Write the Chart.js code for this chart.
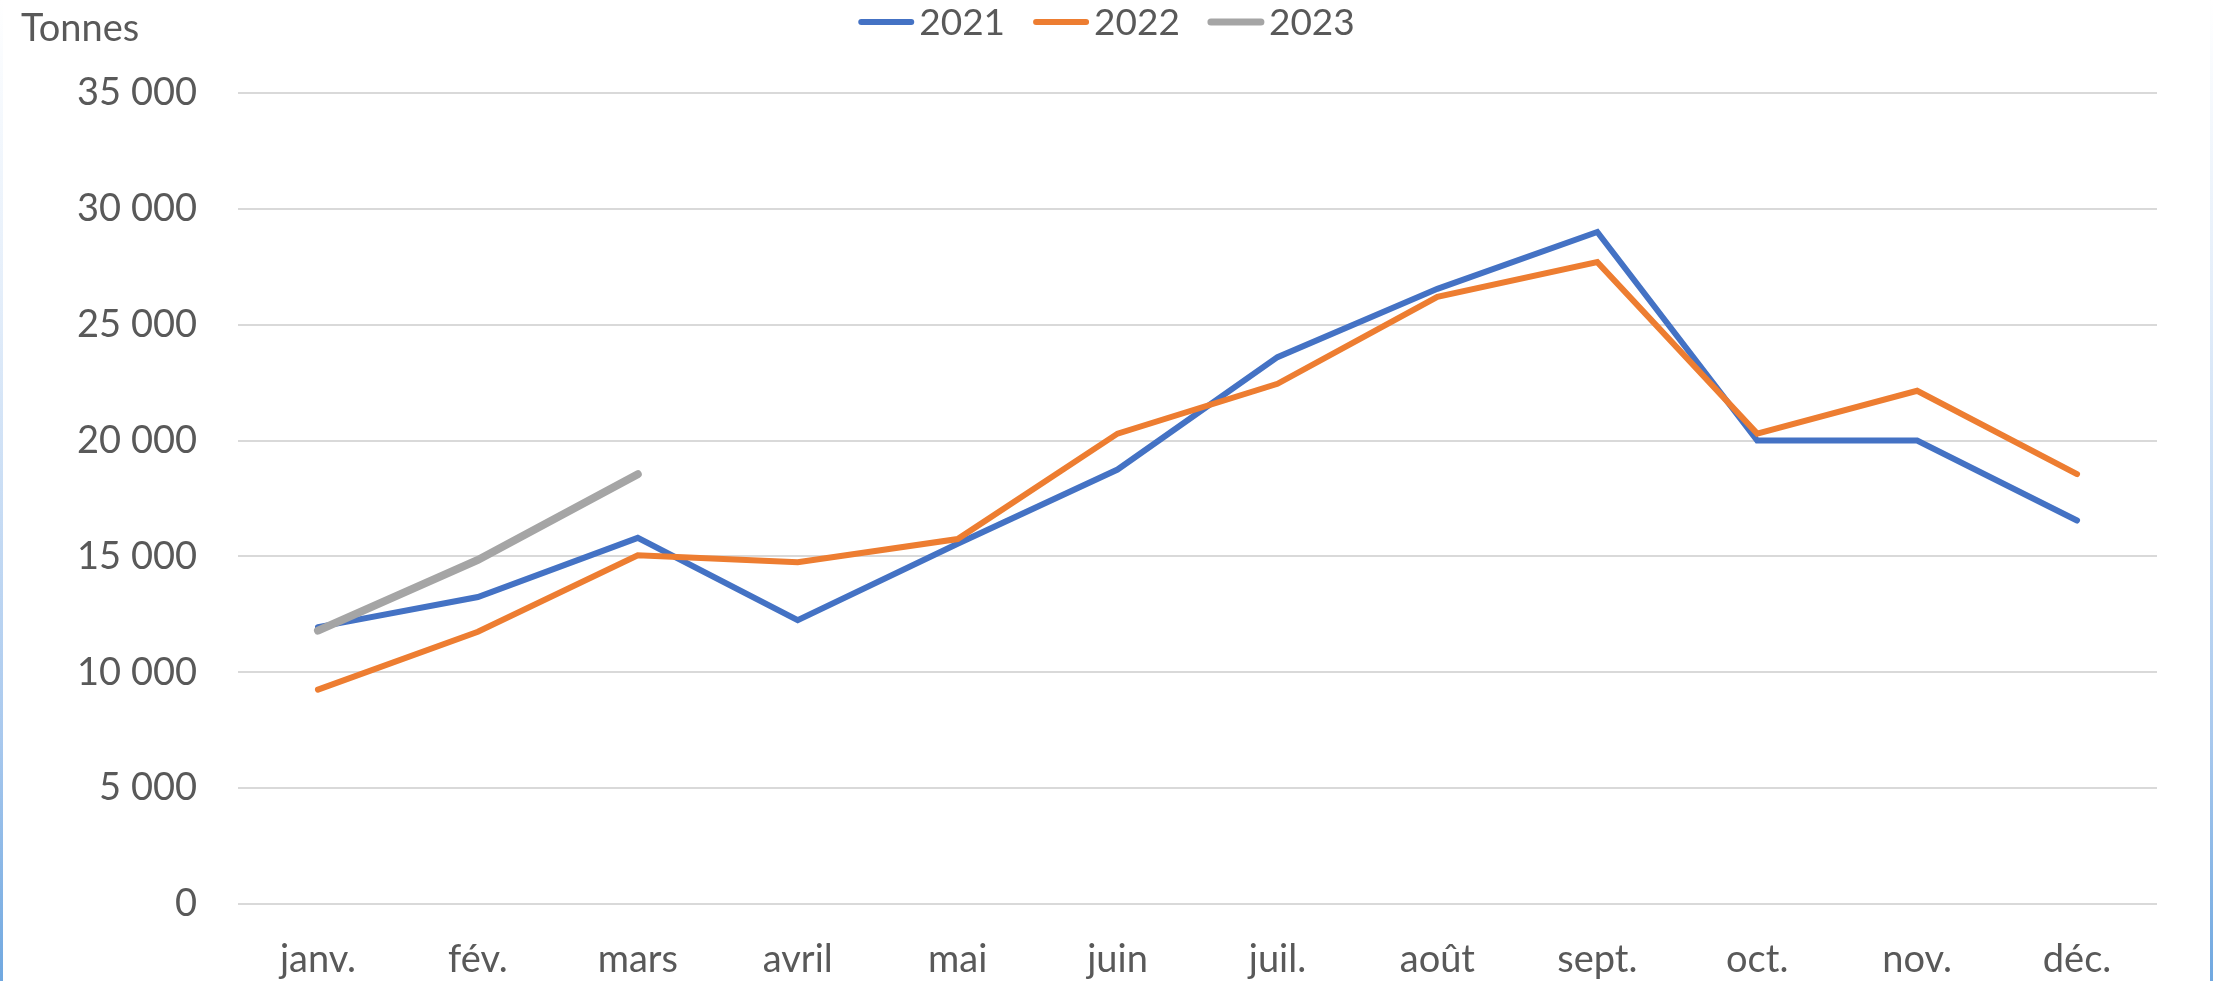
<!DOCTYPE html>
<html>
<head>
<meta charset="utf-8">
<script src="https://cdn.jsdelivr.net/npm/chart.js@4.4.0/dist/chart.umd.min.js"></script>
<style>
  html, body { margin: 0; padding: 0; background: #ffffff; overflow: hidden; }
  #wrap { position: relative; width: 2213px; height: 981px; }
  #edgeL, #edgeR { position: absolute; top: 0; width: 3px; height: 981px;
    background: linear-gradient(to bottom, #ffffff 0%, #e4eefa 30%, #a9c9ee 75%, #70a8e0 100%); }
  #edgeL { left: 0; }
  #edgeR { right: 0; }
</style>
</head>
<body>
<div id="wrap">
  <canvas id="c" width="2213" height="981"></canvas>
  <div id="edgeL"></div>
  <div id="edgeR"></div>
</div>
<script>
const months = ['janv.', 'fév.', 'mars', 'avril', 'mai', 'juin', 'juil.', 'août', 'sept.', 'oct.', 'nov.', 'déc.'];
const seriesNames = ['2021', '2022', '2023'];
const values2021 = [11950, 13250, 15800, 12250, 15550, 18750, 23600, 26550, 29000, 20000, 20000, 16550];
const values2022 = [9250, 11750, 15050, 14750, 15750, 20300, 22450, 26200, 27700, 20300, 22150, 18550];
const values2023 = [11800, 14850, 18550];
const yTicks = [0, 5000, 10000, 15000, 20000, 25000, 30000, 35000];
const unitLabel = 'Tonnes';

const FONT = 'Lato, "Open Sans", sans-serif';
const TEXT = '#595959';

const customLegend = {
  id: 'customLegend',
  afterDraw(chart) {
    const ctx = chart.ctx;
    ctx.save();
    ctx.font = '37px ' + FONT;
    const lineLen = 56, gapText = 5, gapItem = 28;
    const items = chart.data.datasets.map(ds => ({ label: ds.label, color: ds.borderColor, w: ds.borderWidth }));
    let total = 0;
    items.forEach((it, i) => {
      it.tw = ctx.measureText(it.label).width;
      total += lineLen + gapText + it.tw + (i < items.length - 1 ? gapItem : 0);
    });
    let x = chart.width / 2 - total / 2;
    const ly = 22;
    items.forEach(it => {
      ctx.strokeStyle = it.color;
      ctx.lineWidth = Math.min(it.w, 7);
      ctx.lineCap = 'round';
      ctx.beginPath();
      ctx.moveTo(x + 3, ly);
      ctx.lineTo(x + lineLen - 3, ly);
      ctx.stroke();
      x += lineLen + gapText;
      ctx.fillStyle = TEXT;
      ctx.textBaseline = 'alphabetic';
      ctx.textAlign = 'left';
      ctx.fillText(it.label, x, 35);
      x += it.tw + gapItem;
    });
    // unit label
    ctx.font = '38px ' + FONT;
    ctx.fillText(unitLabel, 21, 41);
    ctx.restore();
  }
};

new Chart(document.getElementById('c'), {
  type: 'line',
  data: {
    labels: months,
    datasets: [
      { label: seriesNames[0], data: values2021, borderColor: '#4472C4', backgroundColor: '#4472C4', borderWidth: 6, order: 3 },
      { label: seriesNames[1], data: values2022, borderColor: '#ED7D31', backgroundColor: '#ED7D31', borderWidth: 6, order: 2 },
      { label: seriesNames[2], data: values2023, borderColor: '#A5A5A5', backgroundColor: '#A5A5A5', borderWidth: 8, order: 1 }
    ]
  },
  options: {
    responsive: false,
    animation: false,
    devicePixelRatio: 1,
    layout: { padding: { top: 93, right: 56, bottom: 0, left: 0 } },
    elements: {
      point: { radius: 0, hoverRadius: 0 },
      line: { tension: 0, borderCapStyle: 'round', borderJoinStyle: 'miter', fill: false }
    },
    plugins: {
      legend: { display: false },
      tooltip: { enabled: false },
      title: { display: false }
    },
    scales: {
      x: {
        type: 'category',
        offset: true,
        grid: { display: false, drawTicks: false },
        border: { display: false },
        ticks: { color: TEXT, font: { family: FONT, size: 38 }, padding: 33, maxRotation: 0, autoSkip: false },
        afterFit(scale) { scale.height = 77; }
      },
      y: {
        min: 0,
        max: 35000,
        afterBuildTicks(scale) { scale.ticks = yTicks.map(v => ({ value: v })); },
        grid: { color: '#d9d9d9', lineWidth: 2, drawTicks: false },
        border: { display: false },
        ticks: {
          color: TEXT,
          font: { family: FONT, size: 38 },
          padding: 41,
          callback(v) { return String(v).replace(/\B(?=(\d{3})+(?!\d))/g, ' '); }
        },
        afterFit(scale) { scale.width = 238; }
      }
    }
  },
  plugins: [customLegend]
});
</script>
</body>
</html>
